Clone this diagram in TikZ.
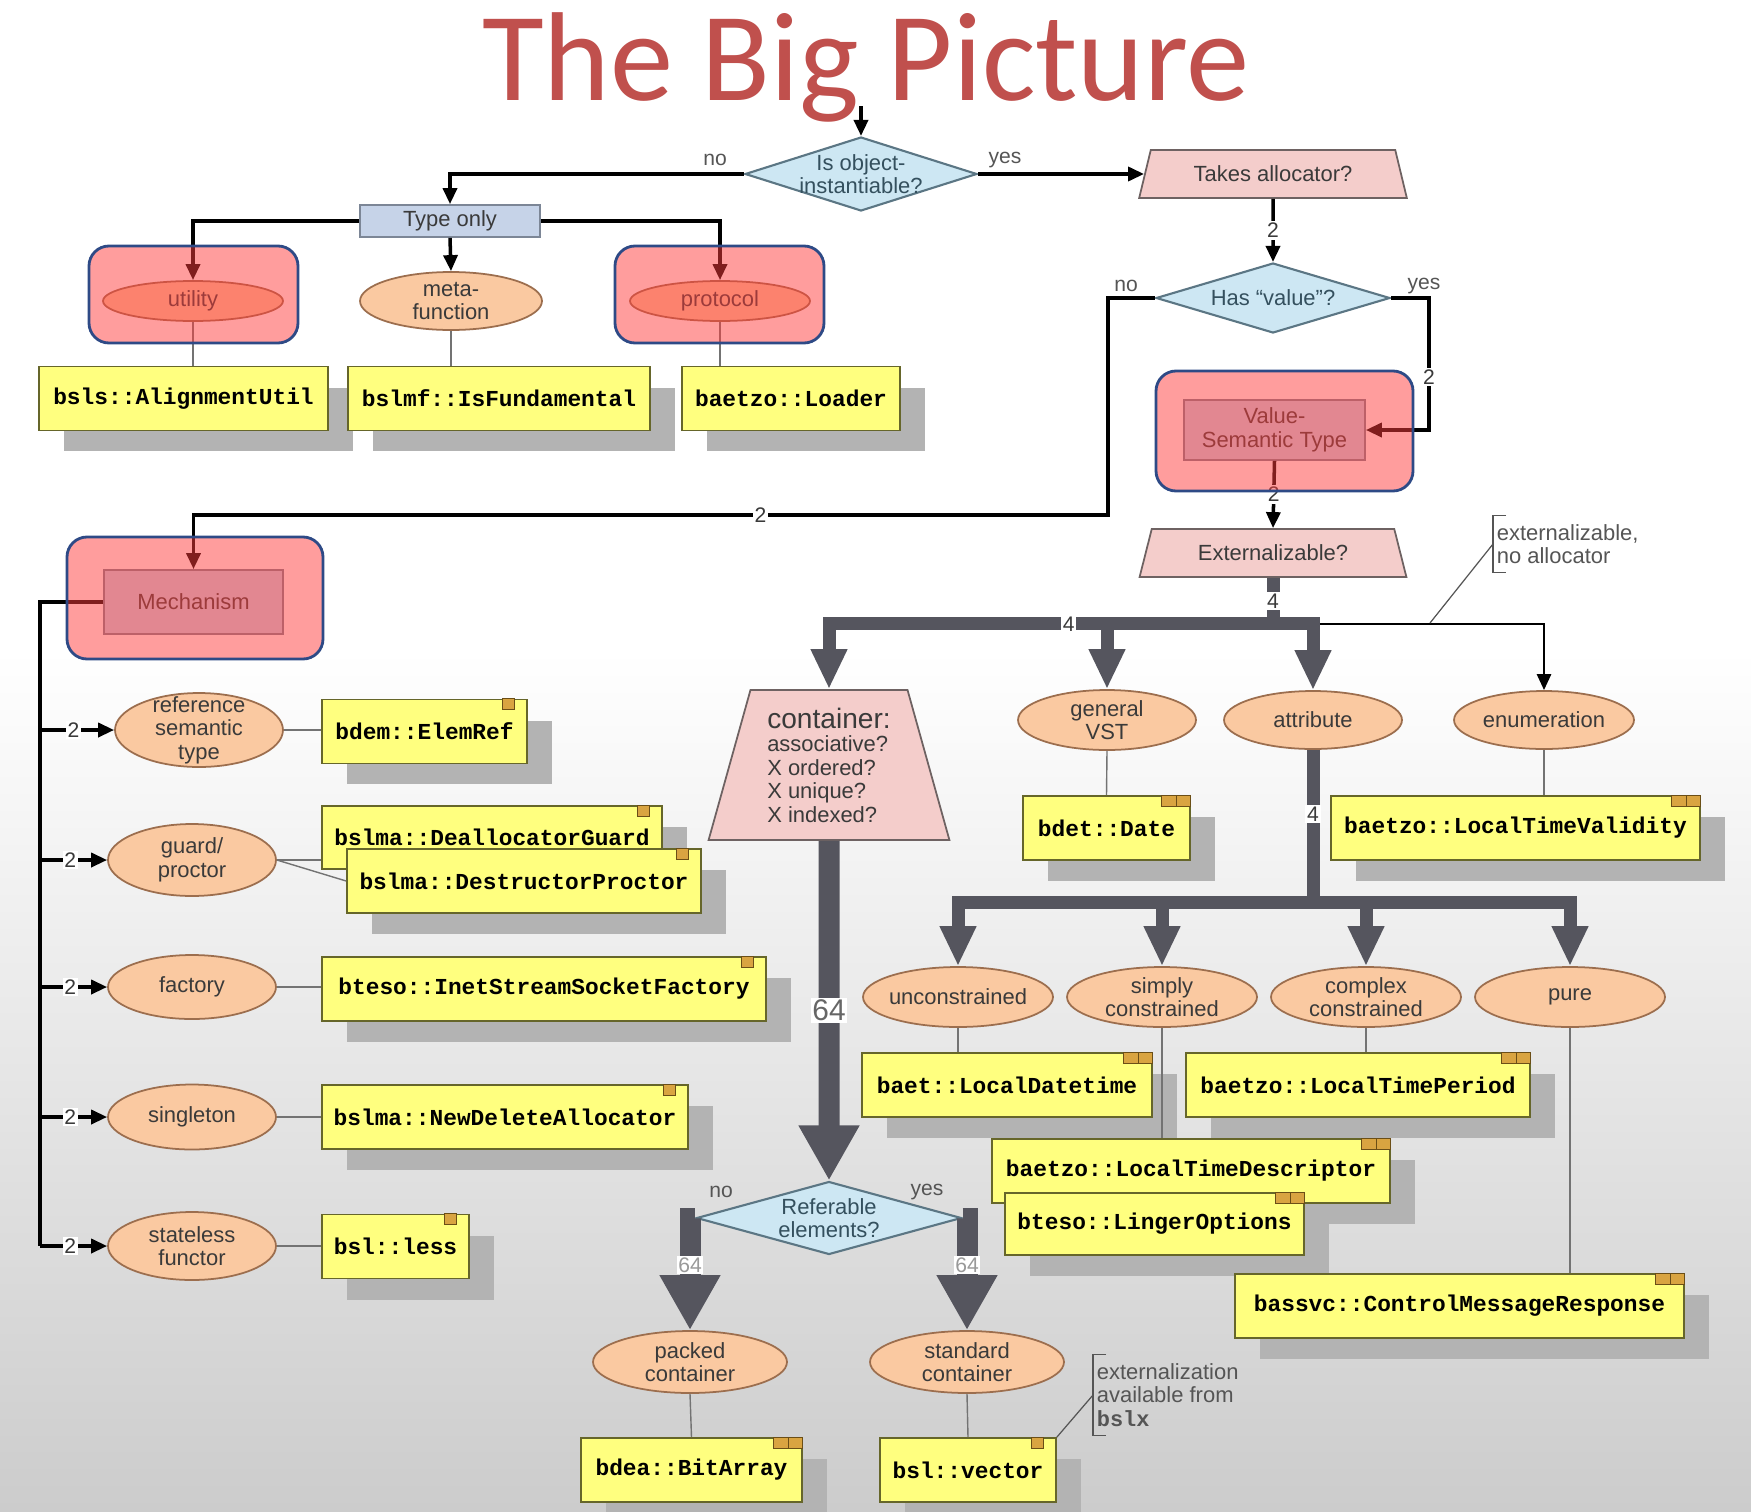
\documentclass[tikz,border=0pt]{standalone}
\usepackage{fontspec}
\setmainfont{Liberation Sans}
\setmonofont{Liberation Mono}
\newfontfamily\titlefont{Carlito}
\usepackage{xcolor}
\definecolor{titleRed}{HTML}{C0504D}
\definecolor{askFill}{HTML}{CDE7F3}
\definecolor{askLine}{HTML}{5B7684}
\definecolor{askInk}{HTML}{34505E}
\definecolor{trapFill}{HTML}{F4CDCB}
\definecolor{trapLine}{HTML}{6E6262}
\definecolor{catFill}{HTML}{FAC9A1}
\definecolor{catLine}{HTML}{9C6E4E}
\definecolor{kindFill}{HTML}{C6D3E8}
\definecolor{kindLine}{HTML}{7C8696}
\definecolor{clsFill}{HTML}{FFFF7F}
\definecolor{clsLine}{HTML}{66662A}
\definecolor{shadeGray}{HTML}{B3B3B3}
\definecolor{iconFill}{HTML}{D9A441}
\definecolor{iconLine}{HTML}{6B4E16}
\definecolor{fatGray}{HTML}{55555E}
\definecolor{hiRed}{HTML}{FF3C3C}
\definecolor{hiBlue}{HTML}{2E4A86}
\definecolor{noteGray}{HTML}{555555}
\definecolor{inkGray}{HTML}{3A3A3A}
\usepackage{tikz}
\usetikzlibrary{shapes.geometric,arrows.meta,shadows}

\begin{document}
\begin{tikzpicture}[x=0.02cm, y=-0.02cm, >={Triangle[length=0.32cm, width=0.28cm]},
  every node/.style={font=\fontsize{12.5}{13.4}\selectfont, text=inkGray},
  ask/.style={diamond, draw=askLine, fill=askFill, line width=1.2pt, inner sep=0pt},
  trap/.style={trapezium, trapezium stretches=true, draw=trapLine, fill=trapFill,
    line width=1pt, inner sep=0pt, minimum width=5.36cm, minimum height=0.96cm,
    trapezium left angle=65, trapezium right angle=65},
  cat/.style={ellipse, draw=catLine, fill=catFill, line width=1pt, inner sep=0pt},
  kind/.style={draw=kindLine, fill=kindFill, line width=1pt, align=center, inner sep=0pt},
  cls/.style={draw=clsLine, fill=clsFill, line width=1pt, minimum height=1.28cm, inner sep=0pt,
    font=\fontsize{13}{15}\selectfont\ttfamily\bfseries, text=black,
    drop shadow={shadow xshift=0.5cm, shadow yshift=-0.42cm, fill=shadeGray, opacity=1}},
  intext/.style={align=center, inner sep=0pt},
  asktext/.style={align=center, inner sep=0pt, text=askInk},
  conn/.style={draw=black, line width=2pt},
  tie/.style={draw=black!55, line width=0.8pt},
  fat4/.style={draw=fatGray, line width=0.26cm},
  fat64/.style={draw=fatGray, line width=0.42cm},
  tip4/.style={-{Triangle[length=0.8cm, width=0.68cm]}},
  tip64/.style={-{Triangle[length=1.1cm, width=1.14cm]}},
  num/.style={fill=white, inner sep=1pt, font=\fontsize{12}{12}\selectfont},
  yesno/.style={text=noteGray, font=\fontsize{12}{12}\selectfont},
  note/.style={align=left, text=noteGray, inner xsep=2pt, inner ysep=0pt},
  noteline/.style={draw=noteGray, line width=0.7pt},
  icon/.style={draw=iconLine, fill=iconFill, line width=0.6pt},
  hilite/.style={draw=hiBlue, line width=1.6pt, fill=hiRed, fill opacity=0.5, rounded corners=0.4cm}]
  % page
  \useasboundingbox (0,0) rectangle (1751,1511);
  \fill[white] (0,0) rectangle (1751,1511);
  \shade[top color=white, bottom color=black!20] (0,650) rectangle (1751,1511);
  \node[anchor=base, font=\titlefont\fontsize{72}{72}\selectfont, text=titleRed] (title) at (866,100) {The Big Picture};

  % questions
  \node[ask, minimum width=4.64cm, minimum height=1.48cm, label={[asktext]center:Is object-\\instantiable?}] (isobj) at (861,174) {};
  \node[trap] (takesalloc) at (1273,174) {Takes allocator?};
  \node[ask, minimum width=4.68cm, minimum height=1.4cm, label={[asktext]center:Has “value”?}] (hasvalue) at (1273,298) {};
  \node[kind, minimum width=3.6cm, minimum height=0.64cm] (typeonly) at (450,221) {Type only};

  % type only
  \node[cat, minimum width=3.6cm, minimum height=0.8cm, label={[intext]center:utility}] (utility) at (193,301) {};
  \node[cat, minimum width=3.64cm, minimum height=1.16cm, label={[intext]center:meta-\\function}] (meta) at (451,301) {};
  \node[cat, minimum width=3.6cm, minimum height=0.8cm, label={[intext]center:protocol}] (protocol) at (720,301) {};
  \node[cls, minimum width=5.78cm] (alignutil) at (183.5,398.5) {bsls::AlignmentUtil};
  \node[cls, minimum width=6.04cm] (isfund) at (499,398.5) {bslmf::IsFundamental};
  \node[cls, minimum width=4.36cm] (loader) at (791,398.5) {baetzo::Loader};

  % value semantic
  \node[kind, minimum width=3.62cm, minimum height=1.2cm] (vst) at (1274.5,430) {Value-\\Semantic Type};
  \node[trap] (extern) at (1273,553) {Externalizable?};

  % mechanisms
  \node[kind, minimum width=3.58cm, minimum height=1.28cm] (mech) at (193.5,602) {Mechanism};
  \foreach \n/\x/\y/\h/\txt in {refsem/199/730/1.48cm/{reference\\semantic\\type},
      guard/192/860/1.44cm/{guard/\\proctor}, factory/192/987/1.28cm/factory,
      singleton/192/1117/1.3cm/singleton, stateless/192/1246/1.36cm/{stateless\\functor}}
    \node[cat, minimum width=3.36cm, minimum height=\h, label={[intext]center:\txt}] (\n) at (\x,\y) {};
  \node[cls, minimum width=4.1cm] (elemref) at (424.5,731.5) {bdem::ElemRef};
  \node[cls, minimum width=6.8cm, minimum height=1.26cm] (deallocguard) at (492,837.5) {bslma::DeallocatorGuard};
  \node[cls, minimum width=7.08cm] (destrproctor) at (524,881) {bslma::DestructorProctor};
  \node[cls, minimum width=8.88cm] (inetfactory) at (544,989) {bteso::InetStreamSocketFactory};
  \node[cls, minimum width=7.32cm] (newdelete) at (505,1117) {bslma::NewDeleteAllocator};
  \node[cls, minimum width=2.94cm] (less) at (395.5,1246.5) {bsl::less};

  % kinds of value type
  \node[trap, minimum width=4.82cm, minimum height=3cm, trapezium left angle=74, trapezium right angle=74, align=left] (container) at (829,765)
    {{\fontsize{16}{18}\selectfont container:}\\associative?\\X ordered?\\X unique?\\X indexed?};
  \node[cat, minimum width=3.56cm, minimum height=1.2cm, label={[intext]center:general\\VST}] (gvst) at (1107,720) {};
  \node[cat, minimum width=3.56cm, minimum height=1.16cm, label={[intext]center:attribute}] (attribute) at (1313,720) {};
  \node[cat, minimum width=3.6cm, minimum height=1.16cm, label={[intext]center:enumeration}] (enum) at (1544,720) {};
  \node[cls, minimum width=3.34cm] (date) at (1106.5,828) {bdet::Date};
  \node[cls, minimum width=7.38cm] (ltvalidity) at (1515.5,828) {baetzo::LocalTimeValidity};

  % kinds of attribute
  \foreach \n/\x/\txt in {uncons/958/unconstrained, simply/1162/{simply\\constrained},
      complex/1366/{complex\\constrained}, pure/1570/pure}
    \node[cat, minimum width=3.8cm, minimum height=1.2cm, label={[intext]center:\txt}] (\n) at (\x,997) {};
  \node[cls, minimum width=5.8cm] (localdt) at (1007,1085) {baet::LocalDatetime};
  \node[cls, minimum width=6.88cm] (ltperiod) at (1358,1085) {baetzo::LocalTimePeriod};
  \node[cls, minimum width=7.96cm] (ltdescr) at (1191,1171) {baetzo::LocalTimeDescriptor};
  \node[cls, minimum width=5.98cm, minimum height=1.24cm] (linger) at (1154.5,1224) {bteso::LingerOptions};
  \node[cls, minimum width=8.98cm] (ctrlmsg) at (1459.5,1306) {bassvc::ControlMessageResponse};

  % containers
  \node[ask, minimum width=5.3cm, minimum height=1.46cm, label={[asktext]center:Referable\\elements?}] (refer) at (829,1218) {};
  \node[cat, minimum width=3.88cm, minimum height=1.24cm, label={[intext]center:packed\\container}] (packed) at (690,1362) {};
  \node[cat, minimum width=3.88cm, minimum height=1.24cm, label={[intext]center:standard\\container}] (standard) at (967,1362) {};
  \node[cls, minimum width=4.42cm] (bitarray) at (691.5,1470) {bdea::BitArray};
  \node[cls, minimum width=3.52cm] (vector) at (968,1470) {bsl::vector};

  % notes
  \node[note, anchor=west, minimum height=1.12cm] (note1) at (1493,544) {externalizable,\\no allocator};
  \node[note, anchor=west, minimum height=1.6cm] (note2) at (1093,1395) {externalization\\available from\\\texttt{\bfseries bslx}};
  \foreach \m in {note1, note2}
    \draw[noteline] ([xshift=0.26cm]\m.north west) -- (\m.north west) -- (\m.south west) -- ([xshift=0.26cm]\m.south west);

  % component marks
  \foreach \b in {elemref, deallocguard, destrproctor, inetfactory, newdelete, less, vector}
    \draw[icon] ([xshift=-0.5cm]\b.north east) rectangle ++(0.24cm,-0.22cm);
  \foreach \b in {date, ltvalidity, localdt, ltperiod, ltdescr, linger, ctrlmsg, bitarray} {
    \draw[icon] ([xshift=-0.58cm]\b.north east) rectangle ++(0.29cm,-0.22cm);
    \draw[icon] ([xshift=-0.29cm]\b.north east) rectangle ++(0.29cm,-0.22cm);
  }

  % top decisions
  \coordinate (entry) at (861,106);
  \draw[conn, ->] (entry) -- (isobj.north);
  \draw[conn, ->] (isobj.west) -| (typeonly.north);
  \draw[conn, ->] (isobj.east) -- (takesalloc.west);
  \node[yesno] (isobj-no) at (715,160) {no};
  \node[yesno] (isobj-yes) at (1005,160) {yes};
  \draw[conn, ->] (takesalloc.south) -- node[num]{2} (hasvalue.north);
  \node[yesno] (hv-no) at (1126,286) {no};
  \node[yesno] (hv-yes) at (1424,286) {yes};
  \draw[conn, ->] (hasvalue.east) -- ++(38,0) |- node[num, pos=0.3]{2} (vst.east);
  \draw[conn, ->] (hasvalue.west) -- ++(-47,0) -- ++(0,217) -| node[num, pos=0.19]{2} (mech.north);

  % type only branches
  \draw[conn, ->] (typeonly.west) -| (utility.north);
  \draw[conn, ->] (typeonly.south) -- (meta.north);
  \draw[conn, ->] (typeonly.east) -| (protocol.north);
  \draw[tie] (utility.south) -- (utility.south |- alignutil.north);
  \draw[tie] (meta.south) -- (meta.south |- isfund.north);
  \draw[tie] (protocol.south) -- (protocol.south |- loader.north);

  % mechanism branches
  \coordinate (spine) at ([xshift=-1.26cm]mech.west);
  \draw[conn] (mech.west) -- (spine) -- (spine |- stateless.west);
  \foreach \n in {refsem, guard, factory, singleton, stateless}
    \draw[conn, ->] (spine |- \n.west) -- node[num, pos=0.45]{2} (\n.west);
  \draw[tie] (refsem.east) -- (refsem.east -| elemref.west);
  \draw[tie] (guard.east) -- (guard.east -| deallocguard.west);
  \draw[tie] (guard.east) -- (destrproctor.west);
  \draw[tie] (factory.east) -- (factory.east -| inetfactory.west);
  \draw[tie] (singleton.east) -- (singleton.east -| newdelete.west);
  \draw[tie] (stateless.east) -- (stateless.east -| less.west);

  % value semantic branches
  \draw[conn, ->] (vst.south) -- node[num]{2} (extern.north);
  \coordinate (fork4) at ([yshift=-0.92cm]extern.south);
  \coordinate (lead1) at (1430,623);
  \draw[conn, line width=1.5pt, ->] (fork4) -| (enum.north);
  \draw[noteline] (note1.west) -- (lead1);
  \draw[fat4] (extern.south) -- node[num]{4} (fork4);
  \draw[fat4, tip4] (fork4) -| node[num, pos=0.23]{4} (container.north);
  \draw[fat4, tip4] (fork4) -| (gvst.north);
  \draw[fat4, tip4] (fork4) -| (attribute.north);
  \draw[tie] (gvst.south) -- (date.north);
  \draw[tie] (enum.south) -- (enum.south |- ltvalidity.north);

  % attribute branches
  \coordinate (fork5) at ([yshift=-3.06cm]attribute.south);
  \draw[fat4] (attribute.south) -- node[num, pos=0.42]{4} (fork5);
  \foreach \n in {uncons, simply, complex, pure}
    \draw[fat4, tip4] (fork5) -| (\n.north);
  \draw[tie] (uncons.south) -- (uncons.south |- localdt.north);
  \draw[tie] (simply.south) -- (simply.south |- ltdescr.north);
  \draw[tie] (complex.south) -- (complex.south |- ltperiod.north);
  \draw[tie] (pure.south) -- (pure.south |- ctrlmsg.north);

  % container branches
  \draw[fat64, tip64] (container.south) -- node[num, font=\fontsize{17}{17}\selectfont, text=black!60]{64} (refer.north);
  \node[yesno] (refer-no) at (721,1192) {no};
  \node[yesno] (refer-yes) at (927,1192) {yes};
  \draw[fat64, tip64] (refer.west) -| node[num, pos=0.71, text=black!40]{64} (packed.north);
  \draw[fat64, tip64] (refer.east) -| node[num, pos=0.71, text=black!40]{64} (standard.north);
  \draw[tie] (packed.south) -- (bitarray.north);
  \draw[tie] (standard.south) -- (vector.north);
  \draw[noteline] (note2.west) -- (vector.north east);

  % highlights
  \draw[hilite] (89,246) rectangle (298,343);
  \draw[hilite] (615,246) rectangle (824,343);
  \draw[hilite] (1156,371) rectangle (1413,491);
  \draw[hilite] (67,537) rectangle (323,659);
\end{tikzpicture}
\end{document}
